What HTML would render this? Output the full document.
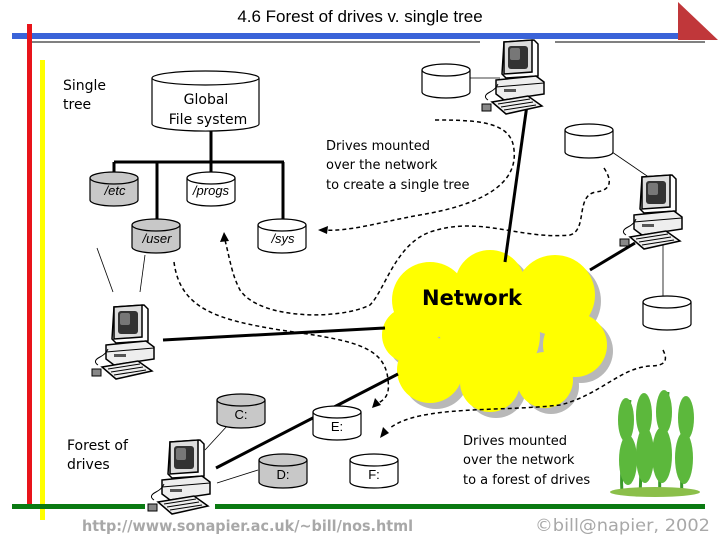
<!DOCTYPE html>
<html><head><meta charset="utf-8"><style>
html,body{margin:0;padding:0;background:#fff;}
svg{display:block;}
text{font-family:"Liberation Sans",sans-serif;}
.g{font-family:"DejaVu Sans","Liberation Sans",sans-serif;}
</style></head><body>
<svg width="720" height="540" viewBox="0 0 720 540" xmlns="http://www.w3.org/2000/svg">
<defs>
<symbol id="pc" viewBox="0 0 70 75" overflow="visible">
  <polygon points="22,2 52,0 56,4 56,36 24,38 20,34" fill="#fff" stroke="#000" stroke-width="1.5"/>
  <polygon points="22,2 50,0 50,32 22,34" fill="#ddd" stroke="#000" stroke-width="1.5"/>
  <rect x="26" y="6" width="20" height="23" fill="#333" rx="3"/>
  <rect x="28" y="8" width="10" height="12" fill="#777" rx="2"/>
  <polygon points="14,40 54,36 62,42 62,54 22,60 14,54" fill="#eee" stroke="#000" stroke-width="1.5"/>
  <line x1="14" y1="47" x2="62" y2="43" stroke="#000"/>
  <rect x="22" y="49" width="12" height="3" fill="#555"/>
  <polygon points="10,62 46,56 60,66 24,74" fill="#eee" stroke="#000" stroke-width="1.5"/>
  <path d="M16,64 L48,59 M19,67 L51,62 M22,70 L54,65" stroke="#000" stroke-width="1"/>
  <path d="M6,60 q-6,-4 2,-8 q6,-3 8,-8" fill="none" stroke="#000"/>
  <rect x="0" y="64" width="9" height="7" fill="#888" stroke="#000"/>
</symbol>
</defs>

<rect x="12" y="33" width="693" height="6" fill="#3a63d8"/>
<polygon points="678,2 718,40 678,40" fill="#c0373a"/>
<line x1="30" y1="42" x2="480" y2="42" stroke="#000" stroke-width="1"/>
<line x1="555" y1="42" x2="705" y2="42" stroke="#000" stroke-width="1"/>
<rect x="27" y="24" width="5" height="484" fill="#e8141a"/>
<rect x="40" y="60" width="5" height="460" fill="#ffff00"/>
<rect x="12" y="504" width="133" height="5" fill="#0a7a12"/>
<rect x="215" y="504" width="490" height="5" fill="#0a7a12"/>

<text x="360" y="22" font-size="17" text-anchor="middle">4.6 Forest of drives v. single tree</text>

<text class="g" x="63" y="90" font-size="14">Single</text>
<text class="g" x="63" y="109" font-size="14">tree</text>

<g stroke="#000" stroke-width="1.2">
<path d="M152,78 v46 a53,7 0 0 0 107,0 v-46" fill="#fff"/>
<ellipse cx="205.5" cy="78" rx="53.5" ry="7" fill="#fff"/>
</g>
<text class="g" x="206" y="104" font-size="14" text-anchor="middle">Global</text>
<text class="g" x="208" y="124" font-size="14" text-anchor="middle">File system</text>

<g stroke="#000" stroke-width="3" fill="none">
<path d="M211,131 V162 M114,162 H284 M114,162 V178 M157,162 V225 M211,162 V178 M283,162 V225"/>
</g>

<g stroke="#000" stroke-width="1.2">
<path d="M90,178 v22 a24,6 0 0 0 48,0 v-22" fill="#c8c8c8"/><ellipse cx="114" cy="178" rx="24" ry="6" fill="#c8c8c8"/>
<path d="M132,225 v22 a24,6 0 0 0 48,0 v-22" fill="#c8c8c8"/><ellipse cx="156" cy="225" rx="24" ry="6" fill="#c8c8c8"/>
<path d="M187,178 v22 a24,6 0 0 0 48,0 v-22" fill="#fff"/><ellipse cx="211" cy="178" rx="24" ry="6" fill="#fff"/>
<path d="M258,225 v22 a24,6 0 0 0 48,0 v-22" fill="#fff"/><ellipse cx="282" cy="225" rx="24" ry="6" fill="#fff"/>
</g>
<g class="g" font-size="13" text-anchor="middle" font-style="italic">
<text x="115" y="195">/etc</text><text x="157" y="243">/user</text>
<text x="211" y="195">/progs</text><text x="283" y="243">/sys</text>
</g>

<text class="g" x="326" y="150" font-size="13">Drives mounted</text>
<text class="g" x="326" y="169" font-size="13">over the network</text>
<text class="g" x="326" y="189" font-size="13">to create a single tree</text>

<g fill="#b8b8b8" transform="translate(6,6)">
<circle cx="430" cy="300" r="38"/><circle cx="490" cy="285" r="35"/><circle cx="555" cy="295" r="40"/>
<circle cx="575" cy="345" r="32"/><circle cx="545" cy="380" r="28"/><circle cx="490" cy="382" r="30"/>
<circle cx="430" cy="370" r="33"/><circle cx="410" cy="335" r="28"/><circle cx="490" cy="335" r="50"/>
</g>
<g fill="#ffff00">
<circle cx="430" cy="300" r="38"/><circle cx="490" cy="285" r="35"/><circle cx="555" cy="295" r="40"/>
<circle cx="575" cy="345" r="32"/><circle cx="545" cy="380" r="28"/><circle cx="490" cy="382" r="30"/>
<circle cx="430" cy="370" r="33"/><circle cx="410" cy="335" r="28"/><circle cx="490" cy="335" r="50"/>
</g>
<text class="g" x="422" y="305" font-size="21" font-weight="bold">Network</text>

<g stroke="#000" stroke-width="3">
<line x1="527" y1="105" x2="505" y2="262"/>
<line x1="635" y1="243" x2="590" y2="270"/>
<line x1="163" y1="340" x2="385" y2="328"/>
<line x1="398" y1="374" x2="216" y2="468"/>
</g>
<g stroke="#000" stroke-width="0.8" fill="none">
<line x1="97" y1="248" x2="113" y2="292"/>
<line x1="145" y1="255" x2="140" y2="292"/>
<line x1="470" y1="78" x2="500" y2="78"/>
<line x1="612" y1="152" x2="650" y2="178"/>
<line x1="663" y1="230" x2="663" y2="298"/>
<line x1="228" y1="425" x2="205" y2="450"/>
<line x1="258" y1="470" x2="217" y2="483"/>
</g>

<g stroke="#000" stroke-width="1.2">
<path d="M422,70 v22 a24,6 0 0 0 48,0 v-22" fill="#fff"/><ellipse cx="446" cy="70" rx="24" ry="6" fill="#fff"/>
<path d="M565,130 v22 a24,6 0 0 0 48,0 v-22" fill="#fff"/><ellipse cx="589" cy="130" rx="24" ry="6" fill="#fff"/>
<path d="M643,302 v22 a24,6 0 0 0 48,0 v-22" fill="#fff"/><ellipse cx="667" cy="302" rx="24" ry="6" fill="#fff"/>
<path d="M217,400 v22 a24,6 0 0 0 48,0 v-22" fill="#c8c8c8"/><ellipse cx="241" cy="400" rx="24" ry="6" fill="#c8c8c8"/>
<path d="M313,412 v22 a24,6 0 0 0 48,0 v-22" fill="#fff"/><ellipse cx="337" cy="412" rx="24" ry="6" fill="#fff"/>
<path d="M259,460 v22 a24,6 0 0 0 48,0 v-22" fill="#c8c8c8"/><ellipse cx="283" cy="460" rx="24" ry="6" fill="#c8c8c8"/>
<path d="M350,460 v22 a24,6 0 0 0 48,0 v-22" fill="#fff"/><ellipse cx="374" cy="460" rx="24" ry="6" fill="#fff"/>
</g>
<g class="g" font-size="13" text-anchor="middle">
<text x="241" y="419">C:</text><text x="337" y="431">E:</text>
<text x="283" y="479">D:</text><text x="374" y="479">F:</text>
</g>

<g stroke="#000" stroke-width="1.5" fill="none" stroke-dasharray="4,3">
<path d="M435,120 C480,120 512,122 514,150 C518,185 480,205 420,215 C380,222 350,232 322,230"/>
<path d="M604,168 C612,180 612,190 596,192 C575,195 588,230 570,235 C520,240 480,215 430,232 C395,245 385,290 370,305 C340,320 260,320 240,290 C232,275 230,260 225,240"/>
<path d="M174,262 C180,310 220,320 280,330 C350,340 385,345 388,380 C390,395 385,400 376,404"/>
<path d="M663,350 C668,360 666,366 650,366 C620,368 600,395 560,405 C500,412 420,405 390,428"/>
</g>
<g fill="#000">
<polygon points="318,230 328,226 327,234"/>
<polygon points="224,232 220,242 229,241"/>
<polygon points="372,408 375,398 381,405"/>
<polygon points="380,438 383,427 389,433"/>
</g>

<use href="#pc" x="482" y="40" width="70" height="75"/>
<use href="#pc" x="620" y="175" width="70" height="75"/>
<use href="#pc" x="92" y="305" width="70" height="75"/>
<use href="#pc" x="148" y="440" width="70" height="75"/>

<text class="g" x="67" y="450" font-size="14">Forest of</text>
<text class="g" x="67" y="469" font-size="14">drives</text>
<text class="g" x="463" y="445" font-size="13">Drives mounted</text>
<text class="g" x="463" y="464" font-size="13">over the network</text>
<text class="g" x="463" y="484" font-size="13">to a forest of drives</text>

<g stroke="#3a9a2a" stroke-width="3" fill="none">
<path d="M622,495 C620,460 625,430 630,400"/>
<path d="M640,495 C642,460 640,430 645,395"/>
<path d="M660,495 C658,460 665,430 668,392"/>
<path d="M682,495 C680,460 686,430 688,398"/>
</g>
<g fill="#5cb83c">
<ellipse cx="626" cy="420" rx="8" ry="22"/><ellipse cx="628" cy="460" rx="9" ry="25"/>
<ellipse cx="644" cy="415" rx="8" ry="22"/><ellipse cx="645" cy="455" rx="9" ry="28"/>
<ellipse cx="664" cy="412" rx="8" ry="22"/><ellipse cx="662" cy="455" rx="10" ry="28"/>
<ellipse cx="686" cy="418" rx="8" ry="22"/><ellipse cx="684" cy="458" rx="9" ry="26"/>
<ellipse cx="655" cy="492" rx="45" ry="5" fill="#8bbf4a"/>
</g>

<text class="g" x="82" y="531" font-size="15" fill="#a8a8a8" font-weight="bold" textLength="331" lengthAdjust="spacingAndGlyphs">http://www.sonapier.ac.uk/~bill/nos.html</text>
<text class="g" x="535" y="531" font-size="17" fill="#a8a8a8" textLength="175" lengthAdjust="spacingAndGlyphs">©bill@napier, 2002</text>
</svg>
</body></html>
